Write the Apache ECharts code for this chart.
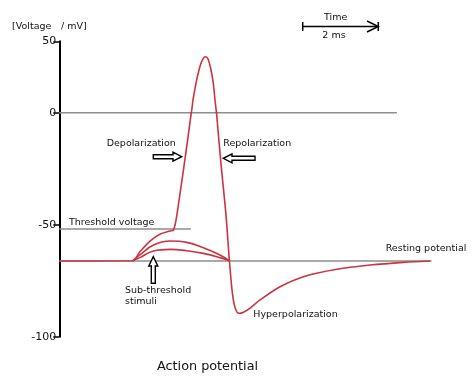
<!DOCTYPE html>
<html><head><meta charset="utf-8">
<script src="https://cdn.jsdelivr.net/npm/echarts@6/dist/echarts.min.js"></script>
<style>html,body{margin:0;padding:0;background:#fff}#c{width:474px;height:381px}</style>
</head><body><div id="c"></div>
<script>
// ---- data (time in ms, voltage in mV) ----
const yTicks = [50, 0, -50, -100];
const tAction = [0, 1.94, 2.13, 2.40, 2.66, 2.93, 3.02, 3.11, 3.492, 3.537, 3.616, 3.696, 3.749, 3.810, 3.854, 3.926, 4.013, 4.074, 4.119, 4.159, 4.28, 4.41, 4.50, 4.57, 4.63, 4.70, 4.77, 4.86, 5.05, 5.31, 5.84, 6.46, 7.34, 8.22, 9.10, 9.81];
const vAction = [-66.2, -66.1, -62.1, -57.3, -54.3, -52.8, -52.4, -45.7, 0, 8.9, 20.6, 29.9, 34.6, 38.1, 39.2, 38.1, 29.9, 20.6, 8.9, 0, -23.3, -45.7, -66.1, -79.2, -85.8, -89.0, -89.6, -89.2, -87.2, -83.6, -77.7, -73.2, -69.9, -68.0, -66.8, -66.2];
const tSubMid = [1.94, 2.13, 2.49, 2.93, 3.37, 3.81, 4.25, 4.50];
const vSubMid = [-66.1, -63.5, -59.1, -57.3, -57.9, -60.3, -63.5, -66.1];
const tSubLow = [1.94, 2.13, 2.49, 2.93, 3.37, 3.81, 4.25, 4.50];
const vSubLow = [-66.1, -64.7, -61.7, -61.0, -61.6, -62.8, -64.7, -66.1];
const tZero = [0, 8.93];
const vZero = [0, 0];
const tThreshold = [0, 3.48];
const vThreshold = [-51.9, -51.9];
const tResting = [0, 9.85];
const vResting = [-66.2, -66.2];

function pairs(ts, vs) { return ts.map((t, i) => [t, vs[i]]); }

const RED = '#cc3341';
const GREY = '#8d8d8d';
const FONT = 'DejaVu Sans';

const chart = echarts.init(document.getElementById('c'), null, {renderer: 'canvas'});

const gridL = 59.3, gridR = 36.7;
const yAxisCommon = {
  type: 'value',
  interval: 50,
  axisLine: {show: true, onZero: false, lineStyle: {color: '#000', width: 2}},
  axisTick: {show: true, length: 6, lineStyle: {color: '#000', width: 1.5}},
  splitLine: {show: false},
  axisLabel: {color: '#111', fontSize: 11, fontFamily: FONT, margin: 3}
};

function redLine(idx, data, smooth) {
  return {type: 'line', xAxisIndex: idx, yAxisIndex: idx, data, showSymbol: false, symbol: 'none',
    smooth: smooth, lineStyle: {color: RED, width: 1.6}, z: 3, animation: false, silent: true};
}
function greyLine(idx, data) {
  return {type: 'line', xAxisIndex: idx, yAxisIndex: idx, data, showSymbol: false, symbol: 'none',
    clip: false, lineStyle: {color: GREY, width: 1.6}, z: 1, animation: false, silent: true};
}

const series = [];
series.push(greyLine(1, pairs(tZero, vZero)));
series.push(greyLine(1, pairs(tThreshold, vThreshold)));
series.push(greyLine(1, pairs(tResting, vResting)));
for (const idx of [0, 1]) {
  series.push(redLine(idx, pairs(tAction, vAction), 0.3));
  series.push(redLine(idx, pairs(tSubMid, vSubMid), 0.4));
  series.push(redLine(idx, pairs(tSubLow, vSubLow), 0.4));
}

const F = '9.5px "' + FONT + '"';
function txt(text, x, y, opts) {
  return {type: 'text', x, y, style: Object.assign({text, fill: '#111', font: F, textVerticalAlign: 'middle', textAlign: 'left'}, opts || {})};
}
function arrow(points) {
  return {type: 'polygon', shape: {points}, style: {fill: '#fff', stroke: '#000', lineWidth: 1.4}, z: 10};
}

const graphics = [
  txt('[Voltage', 12, 26.7),
  txt('/ mV]', 61, 26.7),
  txt('Time', 335.7, 17.3, {textAlign: 'center'}),
  txt('2 ms', 334, 35.7, {textAlign: 'center'}),
  {type: 'polyline', shape: {points: [[302.7, 26.5], [378.3, 26.5]]}, style: {stroke: '#000', lineWidth: 1.5}},
  {type: 'polyline', shape: {points: [[302.7, 22], [302.7, 31]]}, style: {stroke: '#000', lineWidth: 1.5}},
  {type: 'polyline', shape: {points: [[378.3, 22], [378.3, 31]]}, style: {stroke: '#000', lineWidth: 1.5}},
  {type: 'polyline', shape: {points: [[367, 21], [378.3, 26.5], [367, 32]]}, style: {stroke: '#000', lineWidth: 1.5, fill: null}},
  txt('Depolarization', 106.7, 144),
  txt('Repolarization', 223.3, 144),
  txt('Threshold voltage', 69, 223),
  txt('Resting potential', 385.7, 248.3),
  txt('Sub-threshold', 125, 290.7),
  txt('stimuli', 125, 301.7),
  txt('Hyperpolarization', 253.3, 315),
  txt('Action potential', 157, 367, {font: '12.8px "' + FONT + '"'}),
  arrow([[153.3, 154.7], [173, 154.7], [173, 152.2], [181.7, 156.7], [173, 161.2], [173, 158.7], [153.3, 158.7]]),
  arrow([[255, 156.3], [232, 156.3], [232, 153.8], [223.3, 158.3], [232, 162.8], [232, 160.3], [255, 160.3]]),
  arrow([[151.3, 283.3], [151.3, 266], [148.8, 266], [153.3, 256.7], [157.8, 266], [155.3, 266], [155.3, 283.3]])
];

chart.setOption({
  animation: false,
  backgroundColor: '#fff',
  grid: [
    {left: gridL, right: gridR, top: 41.3, height: 71.4},
    {left: gridL, right: gridR, top: 112.7, height: 224}
  ],
  xAxis: [
    {type: 'value', gridIndex: 0, min: 0, max: 10, show: false},
    {type: 'value', gridIndex: 1, min: 0, max: 10, show: false}
  ],
  yAxis: [
    Object.assign({}, yAxisCommon, {gridIndex: 0, min: 0, max: 50,
      axisLabel: Object.assign({}, yAxisCommon.axisLabel, {formatter: v => (yTicks.includes(v) ? String(v) : '')})}),
    Object.assign({}, yAxisCommon, {gridIndex: 1, min: -100, max: 0,
      axisLabel: Object.assign({}, yAxisCommon.axisLabel, {formatter: v => (v !== 0 && yTicks.includes(v) ? String(v) : '')})})
  ],
  series,
  graphic: graphics
});
</script>
</body></html>
